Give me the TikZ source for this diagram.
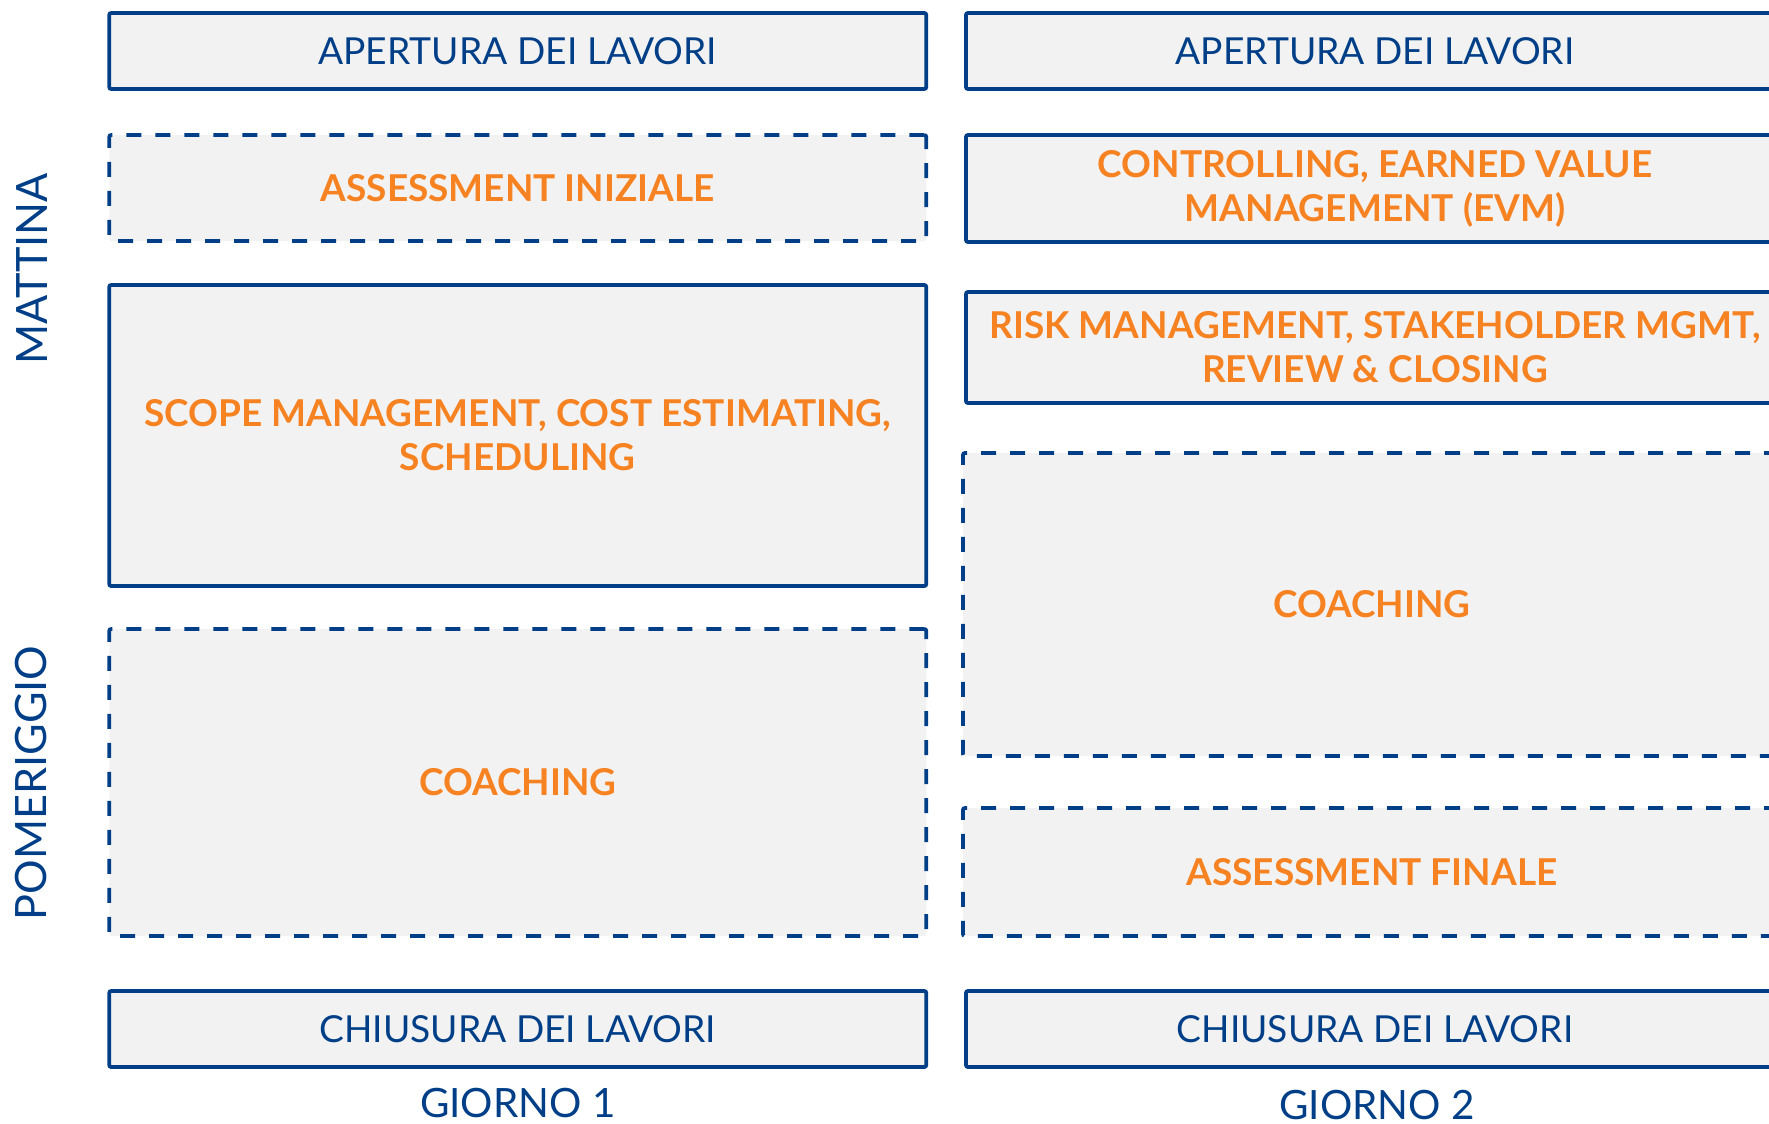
\documentclass[tikz,border=0pt]{standalone}
\usepackage{fontspec}
\setmainfont{Lato}
\definecolor{navy}{RGB}{0,63,135}
\definecolor{orng}{RGB}{246,130,33}
\definecolor{boxgrey}{RGB}{242,242,242}
\tikzset{
  basebox/.style={draw=navy, fill=boxgrey, line width=1.9pt, rounded corners=1pt, inner sep=0pt, align=center},
  solidbox/.style={basebox},
  dashbox/.style={basebox, dash pattern=on 7.5pt off 7pt},
  navytext/.style={text=navy, font=\fontsize{18.6}{22}\selectfont},
  orangetext/.style={text=orng, font=\fontsize{18.5}{22}\selectfont\bfseries},
  sidelabel/.style={text=navy, font=\fontsize{21.6}{24}\selectfont, rotate=90, inner sep=0pt},
  daylabel/.style={text=navy, font=\fontsize{20.2}{24}\selectfont, inner sep=0pt}
}
\begin{document}
\begin{tikzpicture}[x=0.5pt,y=-0.5pt]
\useasboundingbox (0,0) rectangle (1769,1124);
\clip (0,0) rectangle (1769,1124);
% Day 1
\node[solidbox, navytext, minimum width=408.5pt, minimum height=38pt] (a1) at (517.75,51) {APERTURA DEI LAVORI};
\node[dashbox, orangetext, minimum width=408.5pt, minimum height=53pt] (b1) at (517.75,188) {ASSESSMENT INIZIALE};
\node[solidbox, orangetext, minimum width=408.5pt, minimum height=150.5pt] (c1) at (517.75,435.5) {SCOPE MANAGEMENT, COST ESTIMATING,\\SCHEDULING};
\node[dashbox, orangetext, minimum width=408.5pt, minimum height=153.5pt] (d1) at (517.75,782.5) {COACHING};
\node[solidbox, navytext, minimum width=408.5pt, minimum height=38pt] (e1) at (517.75,1029) {CHIUSURA DEI LAVORI};
% Day 2
\node[solidbox, navytext, minimum width=409pt, minimum height=38pt] (a2) at (1375,51) {APERTURA DEI LAVORI};
\node[solidbox, orangetext, minimum width=409pt, minimum height=53.5pt] (b2) at (1375,188.5) {CONTROLLING, EARNED VALUE\\MANAGEMENT (EVM)};
\node[solidbox, orangetext, minimum width=409pt, minimum height=55.5pt] (c2) at (1375,347.5) {RISK MANAGEMENT, STAKEHOLDER MGMT,\\REVIEW \& CLOSING};
\node[dashbox, orangetext, minimum width=409pt, minimum height=151.5pt] (d2) at (1372,604.5) {COACHING};
\node[dashbox, orangetext, minimum width=409pt, minimum height=64pt] (f2) at (1372,872) {ASSESSMENT FINALE};
\node[solidbox, navytext, minimum width=409pt, minimum height=38pt] (e2) at (1375,1029) {CHIUSURA DEI LAVORI};
% labels
\node[sidelabel] (mat) at (32,269) {MATTINA};
\node[sidelabel] (pom) at (31,783) {POMERIGGIO};
\node[daylabel] (g1) at (517.75,1103) {GIORNO 1};
\node[daylabel] (g2) at (1377,1105) {GIORNO 2};
\end{tikzpicture}
\end{document}
